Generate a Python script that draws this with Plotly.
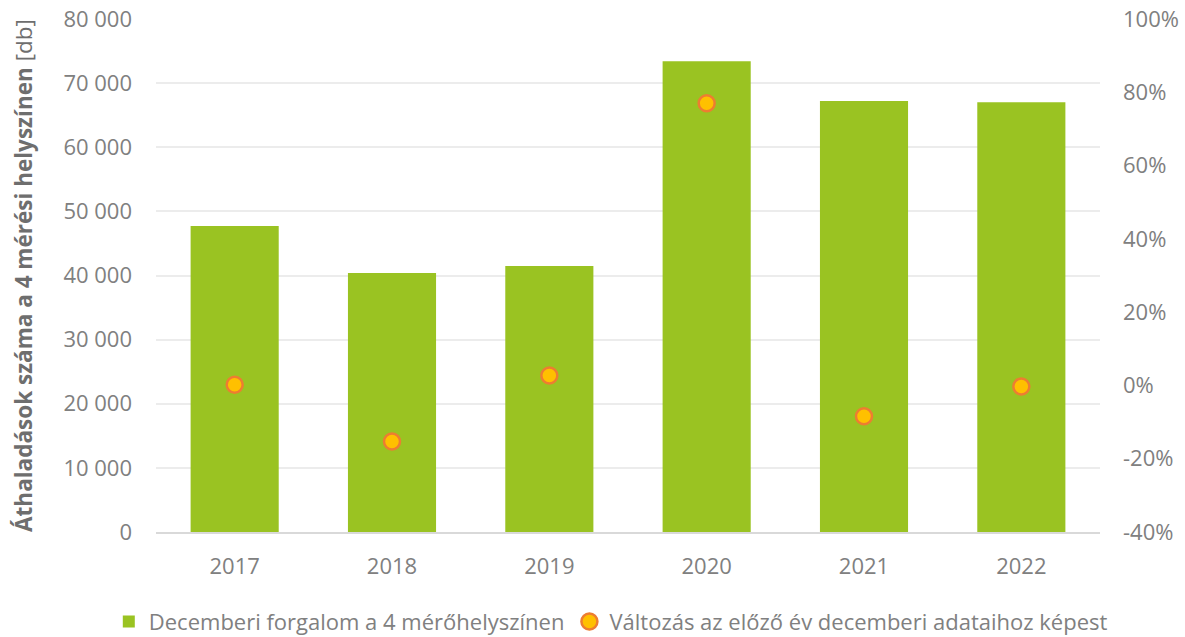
import plotly.graph_objects as go

years = ["2017", "2018", "2019", "2020", "2021", "2022"]
traffic = [47700, 40400, 41500, 73400, 67200, 67000]
change = [0.002, -0.153, 0.027, 0.77, -0.084, -0.003]

left_ticks = [0, 10000, 20000, 30000, 40000, 50000, 60000, 70000, 80000]
left_labels = ["0", "10 000", "20 000", "30 000", "40 000", "50 000", "60 000", "70 000", "80 000"]
right_ticks = [-0.4, -0.2, 0.0, 0.2, 0.4, 0.6, 0.8, 1.0]
right_labels = ["-40%", "-20%", "0%", "20%", "40%", "60%", "80%", "100%"]

bar_name = "Decemberi forgalom a 4 mérőhelyszínen"
dot_name = "Változás az előző év decemberi adataihoz képest"
y_title = "<b>Áthaladások száma a 4 mérési helyszínen</b> [db]"

FONT = "Open Sans"
GREY = "#808080"

fig = go.Figure()
fig.add_trace(go.Bar(x=years, y=traffic, name=bar_name, marker=dict(color="#9AC322", line=dict(width=0)), yaxis="y"))
fig.add_trace(go.Scatter(x=years, y=change, name=dot_name, mode="markers",
                         marker=dict(size=16, color="#FFC000", line=dict(color="#ED7D31", width=2.5)),
                         yaxis="y2"))

fig.update_layout(
    width=1185, height=637,
    margin=dict(l=156, r=85, t=19, b=105, autoexpand=False),
    plot_bgcolor="white", paper_bgcolor="white",
    font=dict(family=FONT, size=22, color=GREY),
    bargap=0.44,
    showlegend=True,
    legend=dict(orientation="h", x=-0.05, xanchor="left",
                y=-0.175, yanchor="middle",
                font=dict(size=22, color=GREY), itemwidth=30, tracegroupgap=0),
    xaxis=dict(showgrid=False, showline=True, linecolor="#d9d9d9", linewidth=2,
               ticks="", ticklabelstandoff=14, tickfont=dict(size=22, color=GREY)),
    yaxis=dict(range=[0, 80000], tickvals=left_ticks, ticktext=left_labels,
               showgrid=True, gridcolor="#ececec", gridwidth=2, zeroline=False,
               ticks="", ticklabelstandoff=23, tickfont=dict(size=22, color=GREY),
               title=dict(text=y_title, font=dict(size=22.5, color="#6e6e6e"), standoff=24)),
    yaxis2=dict(range=[-0.4, 1.0], tickvals=right_ticks, ticktext=right_labels,
                overlaying="y", side="right", showgrid=False, zeroline=False,
                ticks="", ticklabelstandoff=22, tickfont=dict(size=22, color=GREY)),
)

fig.write_html("out.html")
